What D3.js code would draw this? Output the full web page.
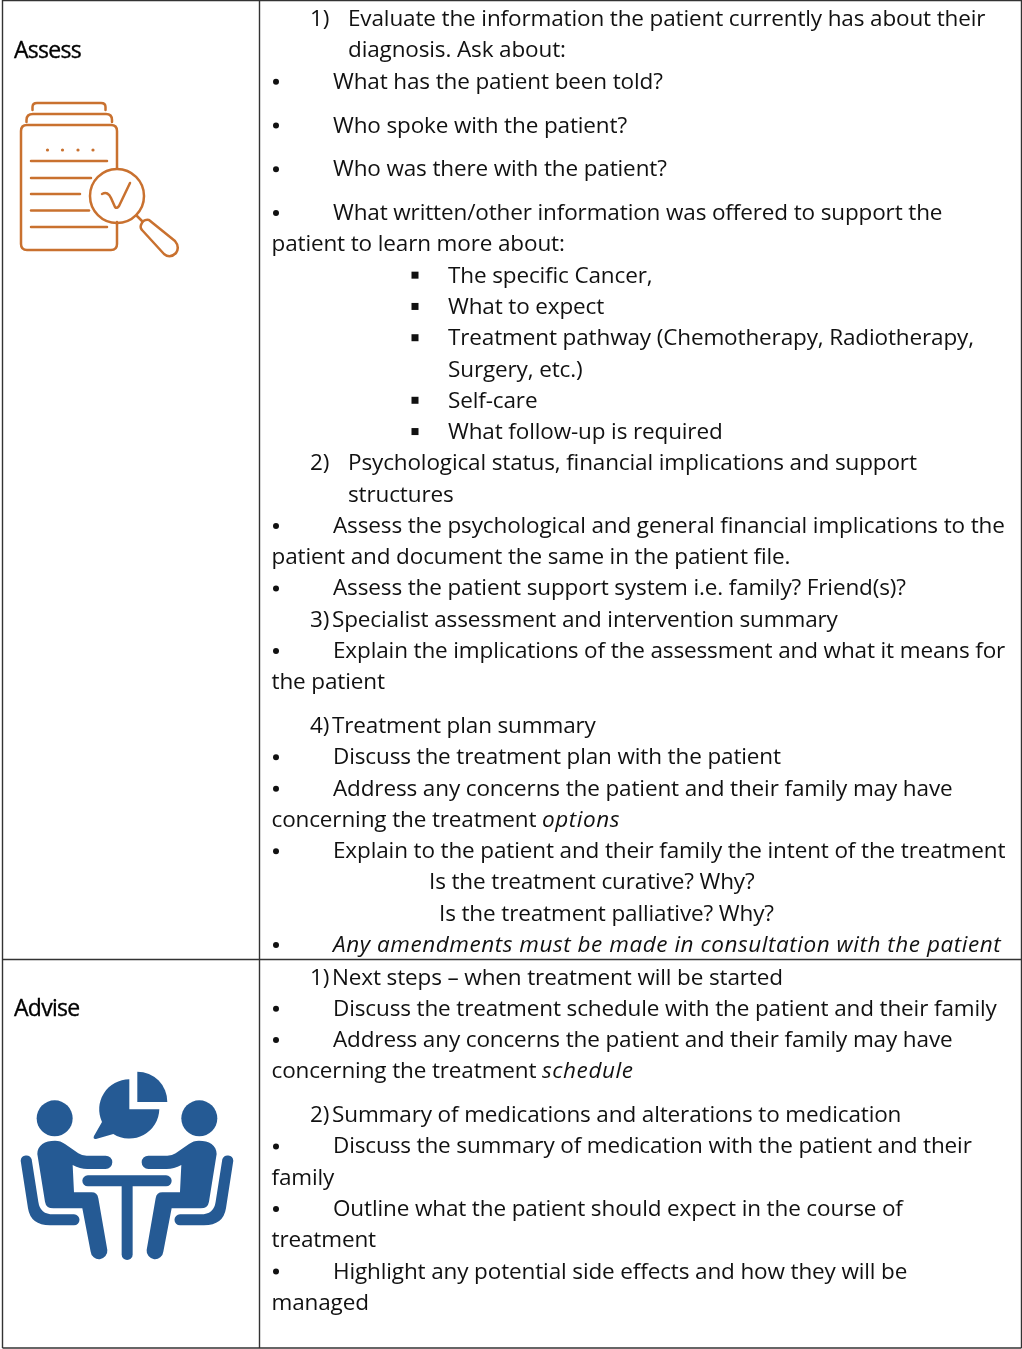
<!DOCTYPE html>
<html>
<head>
<meta charset="utf-8">
<script src="https://cdn.jsdelivr.net/npm/d3@7"></script>
<style>
  html, body { margin: 0; padding: 0; background: #fff; }
  svg { display: block; filter: blur(0.3px); }
  text { font-family: "Open Sans", sans-serif; fill: #111; }
</style>
</head>
<body>
<svg id="plot"></svg>
<script>
// Row titles
const rowNames = ["Assess", "Advise"];

// Lines of the table, one array for the text and one for the kind of indent
const assessLines = [
  "Evaluate the information the patient currently has about their",
  "diagnosis. Ask about:",
  "What has the patient been told?",
  "Who spoke with the patient?",
  "Who was there with the patient?",
  "What written/other information was offered to support the",
  "patient to learn more about:",
  "The specific Cancer,",
  "What to expect",
  "Treatment pathway (Chemotherapy, Radiotherapy,",
  "Surgery, etc.)",
  "Self-care",
  "What follow-up is required",
  "Psychological status, financial implications and support",
  "structures",
  "Assess the psychological and general financial implications to the",
  "patient and document the same in the patient file.",
  "Assess the patient support system i.e. family? Friend(s)?",
  "Specialist assessment and intervention summary",
  "Explain the implications of the assessment and what it means for",
  "the patient",
  "Treatment plan summary",
  "Discuss the treatment plan with the patient",
  "Address any concerns the patient and their family may have",
  "concerning the treatment |options",
  "Explain to the patient and their family the intent of the treatment",
  "Is the treatment curative? Why?",
  "Is the treatment palliative? Why?",
  "|Any amendments must be made in consultation with the patient"
];
const assessKinds = [
  "num1", "wrap", "bullet", "bullet", "bullet", "bullet", "cont",
  "square", "square", "square", "subwrap", "square", "square",
  "num2", "wrap", "bullet", "cont", "bullet", "num3", "bullet", "cont",
  "num4", "bullet", "bullet", "cont", "bullet", "q1", "q2", "bullet"
];
// A little extra space follows these lines
const assessGaps = [2, 3, 4, 20];

const adviseLines = [
  "Next steps \u2013 when treatment will be started",
  "Discuss the treatment schedule with the patient and their family",
  "Address any concerns the patient and their family may have",
  "concerning the treatment |schedule",
  "Summary of medications and alterations to medication",
  "Discuss the summary of medication with the patient and their",
  "family",
  "Outline what the patient should expect in the course of",
  "treatment",
  "Highlight any potential side effects and how they will be",
  "managed"
];
const adviseKinds = [
  "num1b", "bullet", "bullet", "cont", "num2b", "bullet", "cont", "bullet", "cont", "bullet", "cont"
];
const adviseGaps = [3];

const width = 1022, height = 1349;
const lineStep = 31.28, gapStep = 12.5, fontSize = 22.5;

const svg = d3.select("#plot").attr("width", width).attr("height", height);

// table grid
const gridX = [2.5, 259.5, 1021.5];
const gridY = [0.5, 959.5, 1348];
svg.selectAll(".vline").data(gridX).enter().append("line")
    .attr("x1", d => d).attr("x2", d => d)
    .attr("y1", 0).attr("y2", gridY[2])
    .attr("stroke", "#333").attr("stroke-width", 1.4);
svg.selectAll(".hline").data(gridY).enter().append("line")
    .attr("x1", gridX[0]).attr("x2", gridX[2])
    .attr("y1", d => d).attr("y2", d => d)
    .attr("stroke", "#333").attr("stroke-width", 1.4);

// row titles
svg.selectAll(".rowname").data(rowNames).enter().append("text")
    .attr("x", 14)
    .attr("y", (d, i) => i == 0 ? 58 : 1016)
    .attr("font-size", 23)
    .attr("letter-spacing", -0.7)
    .style("stroke", "#000").style("stroke-width", 0.35)
    .style("fill", "#000")
    .text(d => d);

const indent = {
  num1: 348, num1b: 332, num2: 348, num2b: 332, num3: 332, num4: 332,
  wrap: 348, bullet: 333, cont: 271.5, square: 448, subwrap: 448, q1: 429, q2: 439
};
const numerals = {num1: "1)", num1b: "1)", num2: "2)", num2b: "2)", num3: "3)", num4: "4)"};

function drawBlock(lines, kinds, gaps, top) {
  const g = svg.append("g");
  let y = top;
  lines.forEach((line, i) => {
    const kind = kinds[i];
    const parts = line.split("|");
    const t = g.append("text").attr("x", indent[kind]).attr("y", y).attr("font-size", fontSize);
    t.append("tspan").attr("letter-spacing", -0.13).text(parts[0]);
    if (parts.length > 1) t.append("tspan").attr("letter-spacing", 0.55).style("font-style", "italic").text(parts[1]);

    if (kind == "bullet") {
      g.append("circle").attr("cx", 276).attr("cy", y - 7).attr("r", 3).attr("fill", "#111");
    } else if (kind == "square") {
      g.append("rect").attr("x", 411.5).attr("y", y - 11).attr("width", 7).attr("height", 7).attr("fill", "#111");
    } else if (numerals[kind]) {
      g.append("text").attr("x", 310).attr("y", y).attr("font-size", fontSize).text(numerals[kind]);
    }
    y += lineStep + (gaps.includes(i) ? gapStep : 0);
  });
}

drawBlock(assessLines, assessKinds, assessGaps, 26.2);
drawBlock(adviseLines, adviseKinds, adviseGaps, 984.5);

// Assess icon
const orange = "#C9712F";
const doc = svg.append("g")
    .attr("fill", "none").attr("stroke", orange).attr("stroke-width", 2.5)
    .attr("stroke-linecap", "round").attr("stroke-linejoin", "round");
doc.append("path").attr("d", "M117,168 V131 Q117,125 111,125 H27 Q21,125 21,131 V244 Q21,250 27,250 H111 Q117,250 117,244 V222");
doc.append("path").attr("d", "M26.5,122 V120 Q26.5,114 33,114 H106 Q112,114 112,120 V122");
doc.append("path").attr("d", "M32.5,110 V107 Q32.5,103 37,103 H101 Q105.5,103 105.5,107 V110");
[161, 178, 194, 210.5, 227].forEach((y, i) => {
  doc.append("line").attr("x1", 31).attr("y1", y).attr("x2", [107, 91, 80, 89, 107][i]).attr("y2", y);
});
[47.5, 62.5, 78, 93].forEach(x => {
  doc.append("circle").attr("cx", x).attr("cy", 150).attr("r", 1.6).attr("fill", orange).attr("stroke", "none");
});
doc.append("circle").attr("cx", 117).attr("cy", 196).attr("r", 27);
doc.append("path").attr("d", "M102,194 Q108,191 111,198 L115,207 Q117,209 119,206 L130,183");
doc.append("path").attr("d", "M137,216 L142,221");
doc.append("path").attr("d", "M141,225 Q143,219 149,220 L175,241 Q180,247 176,253 Q170,259 164,254 L142,230 Q140,228 141,225 Z");

// Advise icon, drawn at 3x and scaled down
const blue = "#255A94";
const people = svg.append("g").attr("transform", "translate(0,950) scale(0.3333)").attr("fill", blue);
const person = "M112,612 C112,585 135,572 165,572 Q182,572 195,582 L235,610 Q245,617 260,617 H317 A20,20 0 0 1 317,657 H262 Q240,657 218,645 L222,727 H275 Q292,727 295,745 L322,900 A25,25 0 0 1 272,905 L247,775 H160 Q138,775 135,755 Z";
const chair = "M62,632 A17,17 0 0 1 95,628 L115,755 Q120,793 160,793 H222 A16.5,16.5 0 0 1 222,826 H150 Q92,826 84,775 Z";
people.append("circle").attr("cx", 164).attr("cy", 505).attr("r", 54);
people.append("circle").attr("cx", 598).attr("cy", 505).attr("r", 54);
people.append("path").attr("d", person);
people.append("path").attr("d", chair);
people.append("path").attr("d", person).attr("transform", "translate(762,0) scale(-1,1)");
people.append("path").attr("d", chair).attr("transform", "translate(762,0) scale(-1,1)");
// table
people.append("rect").attr("x", 247).attr("y", 676).attr("width", 268).attr("height", 33).attr("rx", 16.5);
people.append("rect").attr("x", 365).attr("y", 690).attr("width", 33).attr("height", 240).attr("rx", 16.5);
// speech bubble pie
people.append("path").attr("d", "M388,388 V478 H478 A90,90 0 0 1 340,552 L288,567 Q278,568 282,558 L306,516 A90,90 0 0 1 388,388 Z");
people.append("path").attr("d", "M412,365 A90,90 0 0 1 502,456 H412 Z");
</script>
</body>
</html>
